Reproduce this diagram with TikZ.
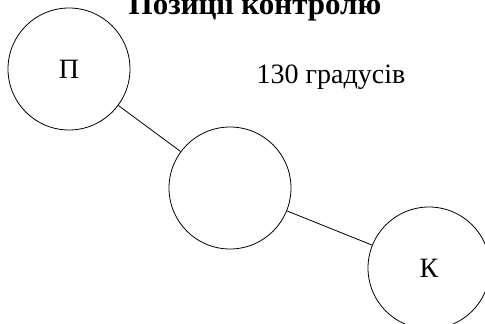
\documentclass[tikz,border=0pt]{standalone}
\usepackage{fontspec}
\setmainfont{Liberation Serif}

\begin{document}
\begin{tikzpicture}[x=1pt,y=1pt,
		line width=0.8pt,
		main node/.style={circle,draw,minimum size=122pt,inner sep=0pt,font=\fontsize{28}{32}\selectfont},
		title node/.style={font=\fontsize{31}{36}\selectfont\bfseries}]
		\clip (0,0) rectangle (485,-324);
		\useasboundingbox (0,0) rectangle (485,-324);
		\node[title node, anchor=base] (title) at (255,-15) {Позиції контролю};
		\node[main node] (p) at (69,-69) {П};
		\node[main node] (mid) at (230,-188) {};
		\node[main node] (k) at (429,-268) {К};
		\node[font=\fontsize{28}{32}\selectfont] (angle) at (331,-77) {130 градусів};

		\path[draw]
		(p) edge (mid)
		(mid) edge (k);
\end{tikzpicture}
\end{document}
